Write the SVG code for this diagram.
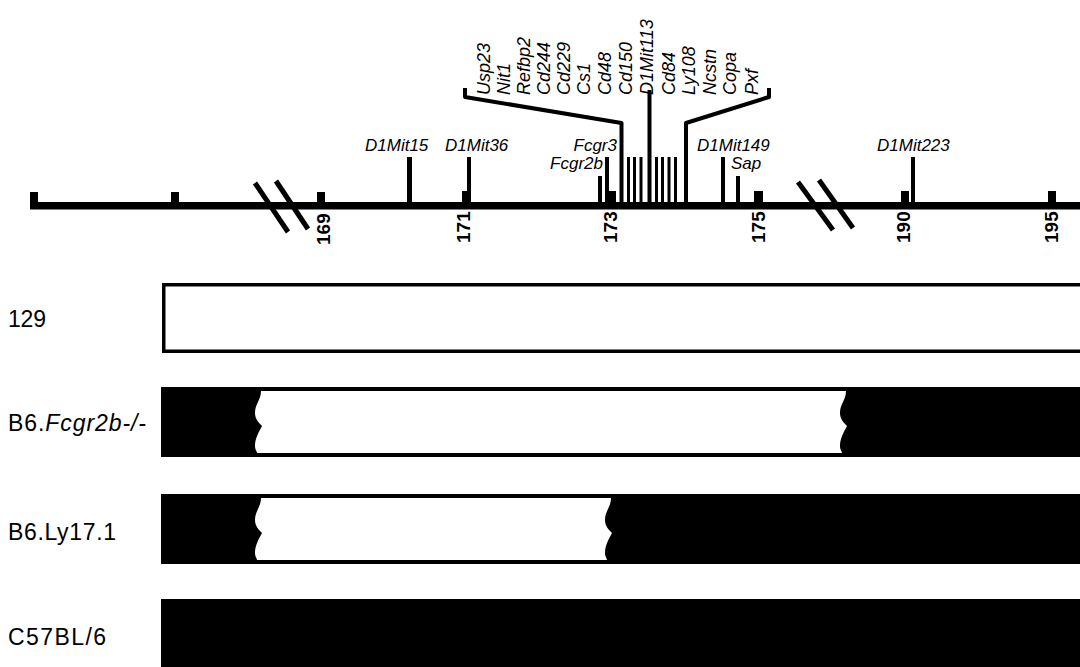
<svg xmlns="http://www.w3.org/2000/svg" width="1080" height="667" viewBox="0 0 1080 667">
  <style>
    text { font-family: "Liberation Sans", Arial, Helvetica, sans-serif; fill: #000; }
    .gene { font-style: italic; font-size: 17px; }
    .vgene { font-style: italic; font-size: 18px; }
    .num { font-weight: bold; font-size: 19px; }
    .strain { font-size: 23px; }
    .bar { fill: #000; }
    .brk { stroke: #000; stroke-width: 5; fill: none; }
    .link { stroke: #000; stroke-width: 4; fill: none; stroke-linejoin: round; }
  </style>
  <rect width="1080" height="667" fill="#fff"/>

  <!-- chromosome axis with position ticks -->
  <g id="axis">
    <rect class="bar" x="30" y="202" width="1050" height="7.5"/>
    <rect class="bar" x="30" y="192" width="8" height="17"/>
    <rect class="bar" x="171" y="192" width="8" height="17"/>
    <rect class="bar" x="317" y="192" width="8" height="17"/>
    <rect class="bar" x="462" y="191" width="8" height="17"/>
    <rect class="bar" x="609" y="191" width="7" height="17"/>
    <rect class="bar" x="754" y="191" width="9" height="17"/>
    <rect class="bar" x="901" y="191" width="8" height="17"/>
    <rect class="bar" x="1048" y="191" width="8" height="17"/>
    <line class="brk" x1="255" y1="183" x2="288" y2="232"/>
    <line class="brk" x1="276" y1="181" x2="308" y2="229"/>
    <line class="brk" x1="798" y1="182" x2="833" y2="230"/>
    <line class="brk" x1="819" y1="180" x2="853" y2="228"/>
    <text class="num" transform="translate(330,245) rotate(-90)">169</text>
    <text class="num" transform="translate(470,243) rotate(-90)">171</text>
    <text class="num" transform="translate(617,243) rotate(-90)">173</text>
    <text class="num" transform="translate(765,243) rotate(-90)">175</text>
    <text class="num" transform="translate(910,243) rotate(-90)">190</text>
    <text class="num" transform="translate(1058,243) rotate(-90)">195</text>
  </g>

  <!-- individual markers -->
  <g id="D1Mit15">
    <rect class="bar" x="407" y="157" width="5" height="48"/>
    <text class="gene" x="365" y="151">D1Mit15</text>
  </g>
  <g id="D1Mit36">
    <rect class="bar" x="467" y="157" width="4" height="48"/>
    <text class="gene" x="445" y="151">D1Mit36</text>
  </g>
  <g id="Fcgr2b">
    <rect class="bar" x="598" y="176" width="4" height="29"/>
    <text class="gene" x="603" y="169" text-anchor="end">Fcgr2b</text>
  </g>
  <g id="Fcgr3">
    <rect class="bar" x="605" y="157" width="4" height="48"/>
    <text class="gene" x="617" y="151" text-anchor="end">Fcgr3</text>
  </g>
  <g id="D1Mit149">
    <rect class="bar" x="721" y="157" width="4" height="48"/>
    <text class="gene" x="697" y="151">D1Mit149</text>
  </g>
  <g id="Sap">
    <rect class="bar" x="736" y="176" width="4" height="29"/>
    <text class="gene" x="731" y="169">Sap</text>
  </g>
  <g id="D1Mit223">
    <rect class="bar" x="911" y="157" width="4" height="48"/>
    <text class="gene" x="877" y="151">D1Mit223</text>
  </g>

  <!-- gene cluster between Fcgr3 and D1Mit149 -->
  <g id="cluster">
    <rect class="bar" x="627" y="157" width="3" height="48"/>
    <rect class="bar" x="633" y="157" width="3" height="48"/>
    <rect class="bar" x="639.5" y="157" width="3" height="48"/>
    <rect class="bar" x="655" y="157" width="3" height="48"/>
    <rect class="bar" x="661" y="157" width="3" height="48"/>
    <rect class="bar" x="667.5" y="157" width="3" height="48"/>
    <rect class="bar" x="674" y="157" width="3" height="48"/>
    <rect class="bar" x="647.5" y="90" width="4" height="115"/>
    <text class="vgene" transform="translate(490,95) rotate(-90)">Usp23</text>
    <text class="vgene" transform="translate(510,95) rotate(-90)">Nit1</text>
    <text class="vgene" transform="translate(530,95) rotate(-90)">Refbp2</text>
    <text class="vgene" transform="translate(550,95) rotate(-90)">Cd244</text>
    <text class="vgene" transform="translate(570,95) rotate(-90)">Cd229</text>
    <text class="vgene" transform="translate(590,95) rotate(-90)">Cs1</text>
    <text class="vgene" transform="translate(611,95) rotate(-90)">Cd48</text>
    <text class="vgene" transform="translate(632,95) rotate(-90)">Cd150</text>
    <text class="vgene" transform="translate(653,95) rotate(-90)">D1Mit113</text>
    <text class="vgene" transform="translate(675,95) rotate(-90)">Cd84</text>
    <text class="vgene" transform="translate(695,95) rotate(-90)">Ly108</text>
    <text class="vgene" transform="translate(716,95) rotate(-90)">Ncstn</text>
    <text class="vgene" transform="translate(736,95) rotate(-90)">Copa</text>
    <text class="vgene" transform="translate(758,95) rotate(-90)">Pxf</text>
  </g>

  <!-- bracket connectors from the cluster to its label fan -->
  <g id="connectors">
    <path class="link" d="M465,88 L465,97 L621.5,123 L621.5,205"/>
    <path class="link" d="M769,88 L769,97 L686,123 L686,205"/>
  </g>

  <!-- strain haplotype bars -->
  <g id="strain-129">
    <text class="strain" x="8" y="327" textLength="38" lengthAdjust="spacing">129</text>
    <rect x="163.75" y="284.75" width="930" height="66.5" fill="#fff" stroke="#000" stroke-width="3.5"/>
  </g>
  <g id="strain-B6-Fcgr2b">
    <text class="strain" x="8" y="431" textLength="138" lengthAdjust="spacing">B6.<tspan font-style="italic">Fcgr2b-/-</tspan></text>
    <rect class="bar" x="161" y="387" width="919" height="70"/>
    <path fill="#fff" d="M261,391 L846,391 C846,400 840,404 840,413 C840,419 844,423 847,426 C844,432 840,438 840,446 C840,450 842,451 842,453 L257,453 C257,451 255,450 255,446 C255,438 259,432 262,426 C259,423 255,419 255,413 C255,404 261,400 261,391 Z"/>
  </g>
  <g id="strain-B6-Ly17-1">
    <text class="strain" x="8" y="540" textLength="108" lengthAdjust="spacing">B6.Ly17.1</text>
    <rect class="bar" x="161" y="494" width="919" height="70"/>
    <path fill="#fff" d="M261,498 L611,498 C611,507 605,511 605,520 C605,526 609,530 612,533 C609,539 605,545 605,553 C605,557 607,558 607,560 L257,560 C257,558 255,557 255,553 C255,545 259,539 262,533 C259,530 255,526 255,520 C255,511 261,507 261,498 Z"/>
  </g>
  <g id="strain-C57BL-6">
    <text class="strain" x="8" y="645" textLength="98" lengthAdjust="spacing">C57BL/6</text>
    <rect class="bar" x="161" y="599" width="919" height="72"/>
  </g>
</svg>
